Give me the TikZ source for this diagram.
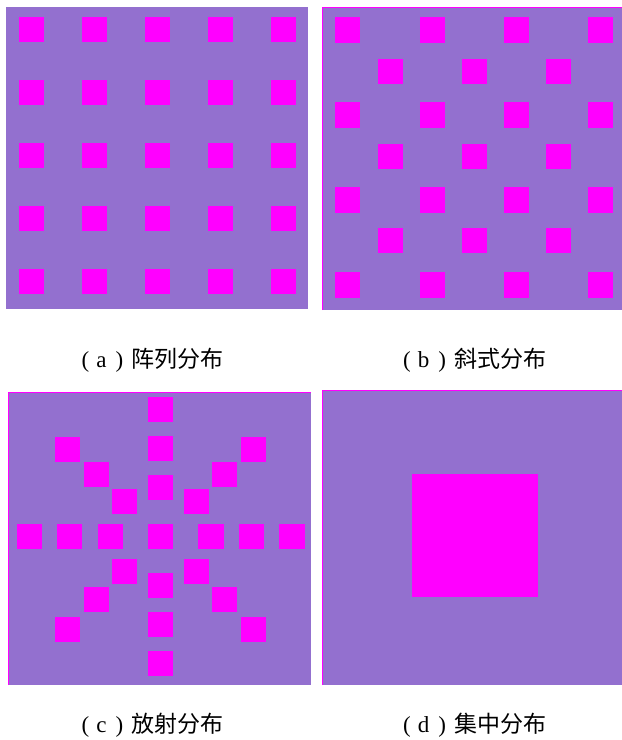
\documentclass[tikz,border=0pt]{standalone}
\usepackage{fontspec}
\setmainfont{Liberation Serif}
\newfontfamily\cjk{Noto Sans CJK SC}
\definecolor{bgpurple}{HTML}{9370CF}
\definecolor{sqmag}{HTML}{FF00FF}
\begin{document}
\begin{tikzpicture}[x=1pt,y=-1pt,
  panel/.style={fill=bgpurple},
  edge/.style={draw=sqmag,line width=1.2pt},
  captext/.style={anchor=west,inner sep=0pt,font=\fontsize{23}{23}\selectfont}]
\useasboundingbox (0,0) rectangle (622,740);
\fill[white] (0,0) rectangle (622,740);
% ---------- panel a
\fill[panel] (6,7) rectangle (308,309);
\foreach \i in {0,...,4}
  \foreach \j in {0,...,4}
    \fill[sqmag] ({31.5+63*\i-12.5},{29.5+63*\j-12.5}) rectangle +(25,25);
% ---------- panel b
\fill[panel] (322,7) rectangle (622,310);
\draw[edge] (322.5,310) -- (322.5,7.5) -- (622,7.5);
\foreach \k in {0,...,3}
  \foreach \i in {0,...,3}
    \fill[sqmag] ({347.7+84.3*\i-12.5},{29.7+85*\k-13}) rectangle +(25,26);
\foreach \k in {0,...,2}
  \foreach \i in {0,...,2}
    \fill[sqmag] ({390.3+84.3*\i-12.5},{72.3+84.4*\k-13}) rectangle +(25,25);
% ---------- panel c
\fill[panel] (8,392) rectangle (310.7,684.7);
\draw[edge] (8.6,684.7) -- (8.6,392.6) -- (310.7,392.6);
\foreach \x/\y in {160.3/409.3,160.3/448.3,160.3/487.7,160.3/536.3,160.3/585.7,160.3/624.7,160.3/663.7,
  29.3/536.3,69.7/536.3,110.2/536.3,210.8/536.3,251.2/536.3,291.8/536.3,
  67.7/449.3,96.3/474.7,124.7/501.7,253.3/449.3,224.5/474.7,196.3/501.7,
  124.7/571.2,96.3/599.2,67.7/629,196.3/571.2,224.5/599.2,253.3/629}
  \fill[sqmag] ({\x-12.7},{\y-12.3}) rectangle +(25.4,24.8);
% ---------- panel d
\fill[panel] (322,390) rectangle (622,684.7);
\draw[edge] (322.6,684.7) -- (322.6,390.6) -- (622,390.6);
\fill[sqmag] (411.7,474) rectangle (537.7,597.3);
% ---------- captions
\node[captext] (capa) at (81.5,360) {(\hspace{0.3em}a\hspace{0.4em})\hspace{0.35em}{\cjk 阵列分布}};
\node[captext] (capb) at (403,360) {(\hspace{0.3em}b\hspace{0.4em})\hspace{0.35em}{\cjk 斜式分布}};
\node[captext] (capc) at (81.5,725) {(\hspace{0.3em}c\hspace{0.4em})\hspace{0.35em}{\cjk 放射分布}};
\node[captext] (capd) at (403,725) {(\hspace{0.3em}d\hspace{0.4em})\hspace{0.35em}{\cjk 集中分布}};
\end{tikzpicture}
\end{document}
